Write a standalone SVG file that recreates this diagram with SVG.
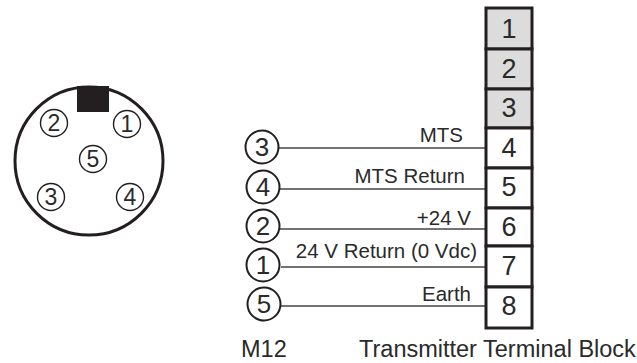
<svg xmlns="http://www.w3.org/2000/svg" width="637" height="363" viewBox="0 0 637 363">
<style>
text{font-family:"Liberation Sans",Arial,sans-serif;fill:#2a2a2a}
.pin{fill:#fff;stroke:#231f20;stroke-width:1.4}
.pt{font-size:23px;text-anchor:middle}
.wp{fill:#fff;stroke:#231f20;stroke-width:2}
.wt{font-size:26px;text-anchor:middle}
.lb{font-size:20.5px;text-anchor:end}
.cap{font-size:23.5px}
.cell{stroke:#231f20;stroke-width:3}
.g{fill:#dcdcdc}.w{fill:#fff}
.bn{font-size:27px;text-anchor:middle}
.wire{stroke:#444;stroke-width:1.6;fill:none}
</style>
<g id="m12-face">
<circle cx="89" cy="161" r="74" fill="#fff" stroke="#231f20" stroke-width="3"/>
<rect x="77" y="86" width="32" height="26" fill="#231f20"/>
<g id="face-pin-2"><circle class="pin" cx="54" cy="123" r="13.5"/><text class="pt" x="54" y="131">2</text></g>
<g id="face-pin-1"><circle class="pin" cx="127" cy="124" r="13.5"/><text class="pt" x="127" y="132">1</text></g>
<g id="face-pin-5"><circle class="pin" cx="93" cy="159" r="13.5"/><text class="pt" x="93" y="167">5</text></g>
<g id="face-pin-3"><circle class="pin" cx="51" cy="197" r="13.5"/><text class="pt" x="51" y="205">3</text></g>
<g id="face-pin-4"><circle class="pin" cx="130" cy="197" r="13.5"/><text class="pt" x="130" y="205">4</text></g>
</g>
<g id="connectors">
<line class="wire" x1="279" y1="148" x2="486" y2="148"/>
<line class="wire" x1="280" y1="189" x2="486" y2="189"/>
<line class="wire" x1="280" y1="229" x2="486" y2="229"/>
<line class="wire" x1="281" y1="267" x2="486" y2="267"/>
<line class="wire" x1="281" y1="306" x2="486" y2="306"/>
</g>
<g id="wire-3"><circle class="wp" cx="262" cy="147" r="16.5"/><text class="wt" x="262" y="156">3</text></g>
<g id="wire-4"><circle class="wp" cx="263" cy="187" r="16.5"/><text class="wt" x="263" y="196">4</text></g>
<g id="wire-2"><circle class="wp" cx="263" cy="226" r="16.5"/><text class="wt" x="263" y="235">2</text></g>
<g id="wire-1"><circle class="wp" cx="263" cy="265" r="16.5"/><text class="wt" x="263" y="274">1</text></g>
<g id="wire-5"><circle class="wp" cx="264" cy="304" r="16.5"/><text class="wt" x="264" y="313">5</text></g>
<text class="lb" x="463" y="142">MTS</text>
<text class="lb" x="465" y="183">MTS Return</text>
<text class="lb" x="471" y="225">+24 V</text>
<text class="lb" x="477" y="258">24 V Return (0 Vdc)</text>
<text class="lb" x="471" y="301">Earth</text>
<g id="block-1"><rect class="cell g" x="486" y="8" width="46" height="41"/><text class="bn" x="509" y="38">1</text></g>
<g id="block-2"><rect class="cell g" x="486" y="49" width="46" height="40"/><text class="bn" x="509" y="78">2</text></g>
<g id="block-3"><rect class="cell g" x="486" y="89" width="46" height="39"/><text class="bn" x="509" y="117">3</text></g>
<g id="block-4"><rect class="cell w" x="486" y="128" width="46" height="40"/><text class="bn" x="509" y="157">4</text></g>
<g id="block-5"><rect class="cell w" x="486" y="168" width="46" height="40"/><text class="bn" x="509" y="196">5</text></g>
<g id="block-6"><rect class="cell w" x="486" y="208" width="46" height="38"/><text class="bn" x="509" y="236">6</text></g>
<g id="block-7"><rect class="cell w" x="486" y="246" width="46" height="41"/><text class="bn" x="509" y="275">7</text></g>
<g id="block-8"><rect class="cell w" x="486" y="287" width="46" height="41"/><text class="bn" x="509" y="315">8</text></g>
<text class="cap" x="241" y="357">M12</text>
<text class="cap" x="359" y="357">Transmitter Terminal Block</text>
</svg>
